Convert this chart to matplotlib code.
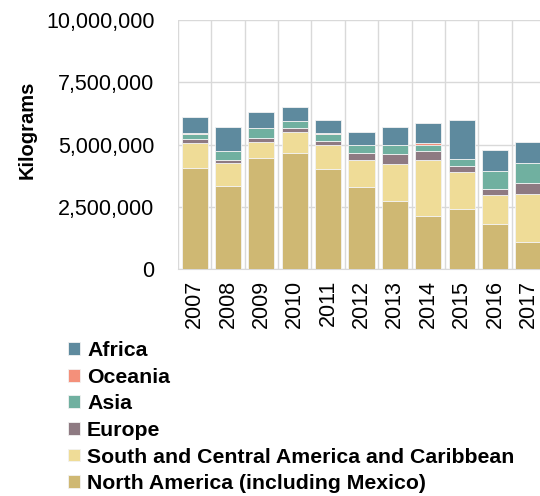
import matplotlib.pyplot as plt
import numpy as np
from matplotlib.ticker import FuncFormatter

plt.rcParams["font.family"] = ["Liberation Sans", "DejaVu Sans"]

years = ["2007", "2008", "2009", "2010", "2011", "2012", "2013", "2014", "2015", "2016", "2017"]

# values in kilograms
north_america = [4050000, 3350000, 4450000, 4650000, 4010000, 3290000, 2730000, 2130000, 2410000, 1810000, 1090000]
south_central = [1000000, 890000, 670000, 840000, 990000, 1100000, 1500000, 2260000, 1500000, 1150000, 1940000]
europe = [160000, 150000, 150000, 180000, 160000, 280000, 400000, 330000, 210000, 270000, 420000]
asia = [230000, 340000, 400000, 260000, 280000, 290000, 330000, 280000, 280000, 690000, 790000]
oceania = [20000, 10000, 10000, 20000, 10000, 10000, 10000, 70000, 10000, 10000, 10000]
africa = [630000, 980000, 640000, 540000, 540000, 520000, 750000, 800000, 1580000, 860000, 860000]

series = [
    ("North America (including Mexico)", north_america, "#cfb873"),
    ("South and Central America and Caribbean", south_central, "#efdc97"),
    ("Europe", europe, "#8e7a82"),
    ("Asia", asia, "#70b0a0"),
    ("Oceania", oceania, "#f4907a"),
    ("Africa", africa, "#5e8a9e"),
]

fig = plt.figure(figsize=(5.4, 4.96), dpi=100)
ax = fig.add_axes([178 / 540, 227 / 496, 367 / 540, 249 / 496])

x = np.arange(len(years))
bottom = np.zeros(len(years))
handles = []
for name, vals, col in series:
    b = ax.bar(x, vals, 0.78, bottom=bottom, color=col, edgecolor="#f2f2f2",
               linewidth=0.6, label=name, zorder=3)
    handles.append(b)
    bottom += np.array(vals)

ax.set_xlim(-0.5, len(years) - 0.5)
ax.set_ylim(0, 10000000)
ax.set_yticks([0, 2500000, 5000000, 7500000, 10000000])
ax.yaxis.set_major_formatter(FuncFormatter(lambda v, p: f"{int(v):,}"))
ax.set_xticks(x)
ax.set_xticklabels(years, rotation=90)
ax.set_xticks(np.arange(-0.5, len(years), 1), minor=True)

ax.grid(axis="y", color="#d9d9d9", linewidth=1, zorder=0)
ax.grid(axis="x", which="minor", color="#d9d9d9", linewidth=1, zorder=0)
ax.tick_params(axis="both", which="both", length=0, labelsize=15.5, colors="black")
ax.tick_params(axis="y", pad=17)
ax.tick_params(axis="x", pad=8)
for s in ["top", "right", "left"]:
    ax.spines[s].set_visible(False)
ax.spines["bottom"].set_color("#d9d9d9")

ax.set_ylabel("Kilograms", fontsize=14.5, fontweight="bold")
ax.yaxis.set_label_coords(-0.385, 0.56)

fig.legend(handles[::-1], [s[0] for s in series][::-1], loc="upper left",
           bbox_to_anchor=(68 / 540, 1 - 341 / 496), frameon=False,
           prop={"weight": "bold", "size": 15.3}, handlelength=0.55, handleheight=0.55,
           handletextpad=0.35, labelspacing=0.36, borderpad=0, borderaxespad=0)

fig.savefig("out.png", dpi=100)
